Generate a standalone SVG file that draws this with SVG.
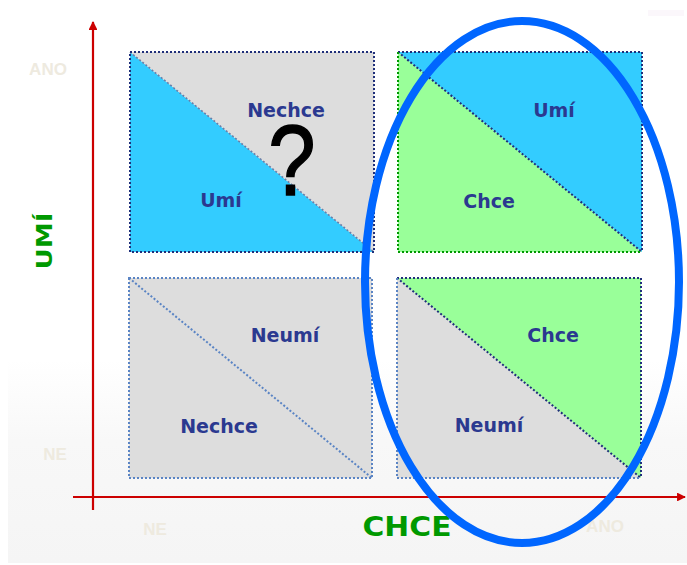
<svg xmlns="http://www.w3.org/2000/svg" width="687" height="565" viewBox="0 0 687 565">
<defs>
<linearGradient id="bg" x1="0" y1="0" x2="0" y2="1">
<stop offset="0" stop-color="#FFFFFF"/>
<stop offset="0.4" stop-color="#F8F8F8"/>
<stop offset="1" stop-color="#F5F5F5"/>
</linearGradient>
<marker id="arr" viewBox="0 0 10 10" refX="9" refY="5" markerWidth="4" markerHeight="4" orient="auto" markerUnits="strokeWidth">
<path d="M0,0 L10,5 L0,10 Z" fill="#CC0000"/>
</marker>
</defs>
<style>
.lbl{font-family:"DejaVu Sans",Verdana,sans-serif;font-weight:bold;font-size:19px;fill:#2B3990;text-anchor:middle}
.faint{font-family:"Liberation Sans",Arial,sans-serif;font-weight:bold;font-size:17px;fill:#EEEADF;text-anchor:middle}
.axl{font-family:"DejaVu Sans",Verdana,sans-serif;font-weight:bold;fill:#009900;text-anchor:middle}
.dk{fill:none;stroke:#1F2F7A;stroke-width:2;stroke-dasharray:2 2}
.lt{fill:none;stroke:#5A84C4;stroke-width:2;stroke-dasharray:2 2}
.gr{fill:none;stroke:#009900;stroke-width:2;stroke-dasharray:2 2}
.diag{fill:none;stroke:#6A7FA8;stroke-width:1.6;stroke-dasharray:2 2}
.axis{stroke:#CC0000;stroke-width:2.2;fill:none}
</style>
<rect x="0" y="0" width="687" height="565" fill="#FFFFFF"/>
<rect x="8" y="360" width="679" height="203" fill="url(#bg)"/>
<rect x="648" y="10" width="36" height="6" fill="#FBF7FB"/>

<g id="faint-labels">
<text class="faint" x="48" y="75">ANO</text>
<text class="faint" x="55" y="460">NE</text>
<text class="faint" x="155" y="535">NE</text>
<text class="faint" x="605" y="532">ANO</text>
</g>

<g id="axes">
<line class="axis" x1="93" y1="510" x2="93" y2="22" marker-end="url(#arr)"/>
<line class="axis" x1="73" y1="497" x2="685" y2="497" marker-end="url(#arr)"/>
</g>

<g id="axis-titles">
<text class="axl" x="0" y="0" font-size="22" transform="translate(52,241) rotate(-90)" textLength="57" lengthAdjust="spacingAndGlyphs">UMÍ</text>
<text class="axl" x="407" y="536" font-size="26" textLength="89" lengthAdjust="spacingAndGlyphs">CHCE</text>
</g>

<g id="box-top-left">
<polygon points="130,52 374,252 130,252" fill="#33CCFF"/>
<polygon points="130,52 374,52 374,252" fill="#DDDDDD"/>
<line class="diag" x1="130" y1="52" x2="374" y2="252"/>
<rect class="dk" x="130" y="52" width="244" height="200"/>
<text class="lbl" x="286" y="117">Nechce</text>
<text class="lbl" x="221" y="207">Umí</text>
<text x="0" y="0" font-family="Liberation Sans, Arial, sans-serif" font-size="100" fill="#000000" stroke="#000000" stroke-width="1.5" text-anchor="middle" transform="translate(292,195) scale(0.85,1)">?</text>
</g>

<g id="box-top-right">
<polygon points="398,52 642,252 398,252" fill="#99FF99"/>
<polygon points="398,52 642,52 642,252" fill="#33CCFF"/>
<line class="dk" x1="398" y1="52" x2="642" y2="252"/>
<path class="dk" d="M398,52 H642 V252"/>
<path class="gr" d="M398,52 V252 H642"/>
<text class="lbl" x="554" y="117">Umí</text>
<text class="lbl" x="489" y="208">Chce</text>
</g>

<g id="box-bottom-left">
<rect x="129" y="278" width="243" height="200" fill="#DDDDDD"/>
<line class="lt" x1="129" y1="278" x2="372" y2="478"/>
<rect class="lt" x="129" y="278" width="243" height="200"/>
<text class="lbl" x="285" y="342">Neumí</text>
<text class="lbl" x="219" y="433">Nechce</text>
</g>

<g id="box-bottom-right">
<polygon points="397,278 641,478 397,478" fill="#DDDDDD"/>
<polygon points="397,278 641,278 641,478" fill="#99FF99"/>
<line class="dk" x1="397" y1="278" x2="641" y2="478"/>
<path class="dk" d="M397,278 H641 V478"/>
<path class="lt" d="M397,278 V478 H641"/>
<text class="lbl" x="553" y="342">Chce</text>
<text class="lbl" x="489" y="432">Neumí</text>
</g>

<g id="highlight">
<ellipse cx="522" cy="282" rx="157" ry="261" fill="none" stroke="#0066FF" stroke-width="8"/>
</g>
</svg>
